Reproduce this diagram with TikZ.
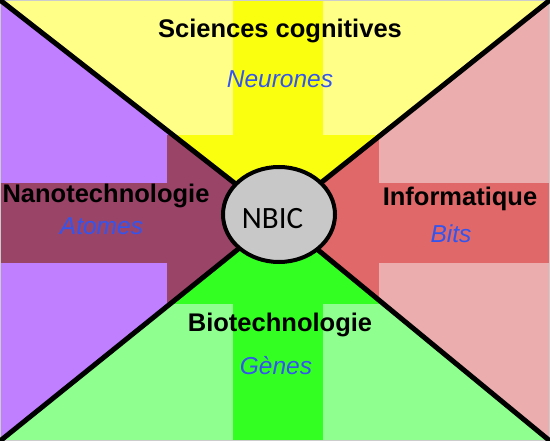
\documentclass[tikz,border=0pt]{standalone}
\usepackage{fontspec}
\setmainfont{Liberation Sans}
\newfontfamily\nbicfont{Carlito}
\usepackage{xcolor}
\usetikzlibrary{positioning}

\definecolor{cogLight}{HTML}{FFFF88}
\definecolor{cogDark}{HTML}{FAFF10}
\definecolor{nanoLight}{HTML}{BF7FFF}
\definecolor{nanoDark}{HTML}{9A4468}
\definecolor{infoLight}{HTML}{EBADAD}
\definecolor{infoDark}{HTML}{E06868}
\definecolor{bioLight}{HTML}{8FFF8F}
\definecolor{bioDark}{HTML}{33FF22}
\definecolor{wordBlue}{HTML}{3355EE}
\definecolor{hubGray}{HTML}{C8C8C8}

% the darker cross shared by the four sectors
\newcommand{\crossbands}[1]{%
  \fill[#1] (233,0) rectangle (323,441);
  \fill[#1] (0,183) rectangle (550,263);
  \fill[#1] (167,135) rectangle (379,304);
}

\begin{document}
\begin{tikzpicture}[x=1pt, y=-1pt,
  fieldtitle/.style={font=\fontsize{25.5}{30}\selectfont\bfseries, anchor=base, inner sep=0pt},
  keyword/.style={font=\fontsize{24.5}{29}\selectfont\itshape, text=wordBlue, anchor=base, inner sep=0pt}]
  \useasboundingbox (0,0) rectangle (550,441);
  \coordinate (c) at (278,217);
  % top : sciences cognitives
  \begin{scope}
    \clip (0,0) -- (550,0) -- (c) -- cycle;
    \fill[cogLight] (0,0) rectangle (550,441);
    \crossbands{cogDark}
  \end{scope}
  % left : nanotechnologie
  \begin{scope}
    \clip (0,0) -- (0,441) -- (c) -- cycle;
    \fill[nanoLight] (0,0) rectangle (550,441);
    \crossbands{nanoDark}
  \end{scope}
  % right : informatique
  \begin{scope}
    \clip (550,0) -- (550,441) -- (c) -- cycle;
    \fill[infoLight] (0,0) rectangle (550,441);
    \crossbands{infoDark}
  \end{scope}
  % bottom : biotechnologie
  \begin{scope}
    \clip (0,441) -- (550,441) -- (c) -- cycle;
    \fill[bioLight] (0,0) rectangle (550,441);
    \crossbands{bioDark}
  \end{scope}
  \draw[gray!40, line width=0.8pt] (0.4,0.4) rectangle (549.6,440.6);
  % diagonals
  \draw[line width=5pt] (0,0) -- (c) -- (550,441);
  \draw[line width=5pt] (550,0) -- (c) -- (0,441);
  % hub
  \filldraw[fill=hubGray, draw=black, line width=4pt] (279,214.5) ellipse [x radius=56, y radius=47.5];
  \node[font=\nbicfont\fontsize{31}{36}\selectfont, anchor=base, inner sep=0pt] (nbic) at (272.5,229) {NBIC};
  % labels
  \node[fieldtitle] (cogno) at (280,38) {Sciences cognitives};
  \node[keyword] (neurones) at (280,88) {Neurones};
  \node[fieldtitle] (nano) at (106,203) {Nanotechnologie};
  \node[keyword] (atomes) at (101.5,235) {Atomes};
  \node[fieldtitle] (info) at (460,206) {Informatique};
  \node[keyword] (bits) at (451,243) {Bits};
  \node[fieldtitle] (bio) at (280,332) {Biotechnologie};
  \node[keyword] (genes) at (276,375) {Gènes};
\end{tikzpicture}
\end{document}
